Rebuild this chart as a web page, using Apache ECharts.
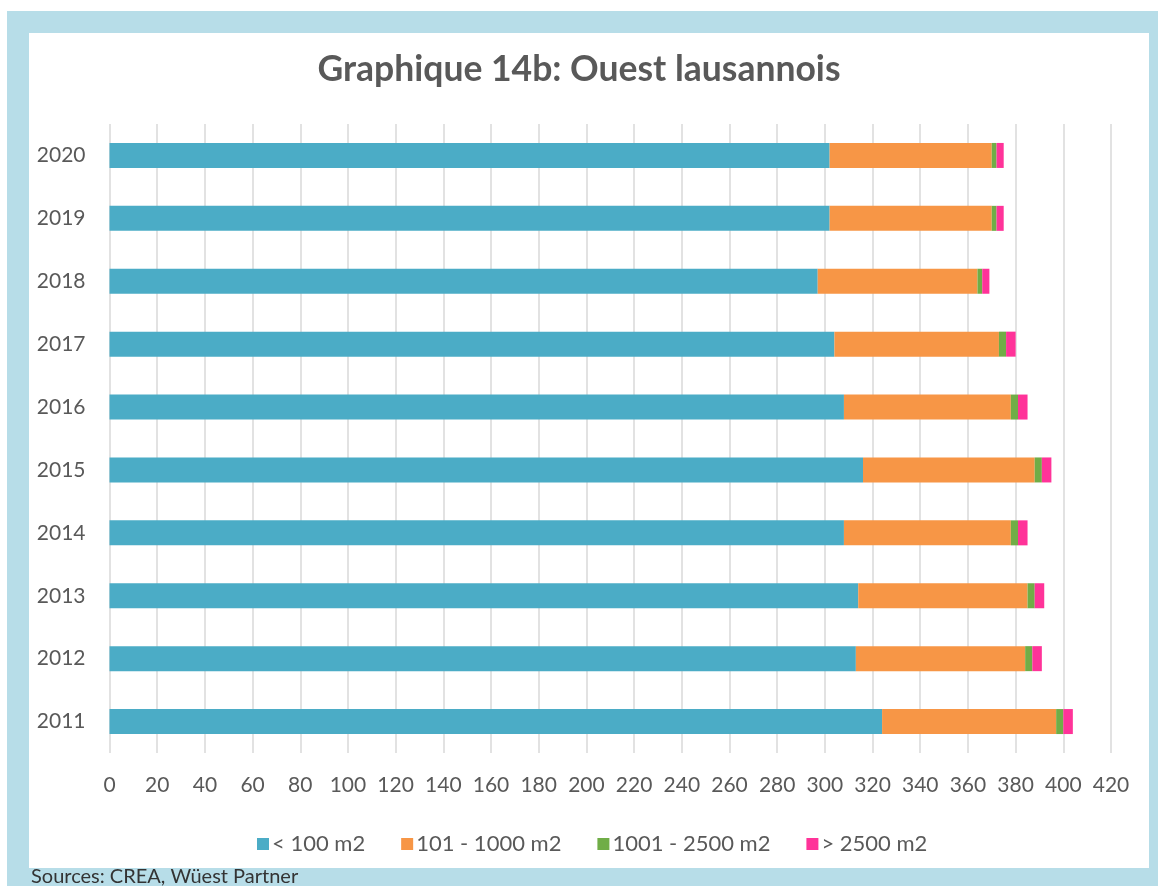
<!DOCTYPE html>
<html>
<head>
<meta charset="utf-8">
<style>
html,body{margin:0;padding:0;background:#fff;}
#chart{width:1158px;height:886px;}
</style>
<script src="https://cdn.jsdelivr.net/npm/echarts@6/dist/echarts.min.js"></script>
</head>
<body>
<div id="chart"></div>
<script>
var years = ['2011','2012','2013','2014','2015','2016','2017','2018','2019','2020'];
var seriesNames = ['< 100 m2','101 - 1000 m2','1001 - 2500 m2','> 2500 m2'];
var small = [324, 313, 314, 308, 316, 308, 304, 297, 302, 302];
var medium = [73, 71, 71, 70, 72, 70, 69, 67, 68, 68];
var large = [3, 3, 3, 3, 3, 3, 3, 2, 2, 2];
var xlarge = [4, 4, 4, 4, 4, 4, 4, 3, 3, 3];
var colors = ['#4bacc6', '#f79646', '#70ad47', '#ff3399'];
var values = [small, medium, large, xlarge];

var chart = echarts.init(document.getElementById('chart'), null, {renderer: 'canvas'});
var FONT = 'Lato, "Open Sans", sans-serif';
var series = values.map(function (v, i) {
  return {
    name: seriesNames[i],
    type: 'bar',
    stack: 'total',
    data: v,
    barWidth: 25,
    itemStyle: {color: colors[i]},
    emphasis: {disabled: true},
    z: 3
  };
});

chart.setOption({
  animation: false,
  backgroundColor: '#ffffff',
  color: colors,
  graphic: [
    {type: 'rect', z: -10, silent: true, shape: {x: 7, y: 11, width: 1151, height: 875}, style: {fill: '#b7dde8'}},
    {type: 'rect', z: -9, silent: true, shape: {x: 29, y: 33, width: 1120, height: 835}, style: {fill: '#ffffff'}},
    {type: 'text', z: 10, left: 31, top: 867, style: {text: 'Sources: CREA, Wüest Partner', fill: '#333333', font: '20px ' + FONT}}
  ],
  title: {
    text: 'Graphique 14b: Ouest lausannois',
    left: 'center',
    top: 47,
    textStyle: {color: '#595959', fontFamily: FONT, fontWeight: 'bold', fontSize: 35.5}
  },
  legend: {
    data: seriesNames,
    top: 828,
    left: 252,
    icon: 'rect',
    itemWidth: 12,
    itemHeight: 12,
    itemGap: 36,
    textStyle: {color: '#595959', fontFamily: FONT, fontSize: 22, padding: [0, 0, 0, -2]}
  },
  grid: {left: 109.5, right: 47, top: 124, bottom: 133, containLabel: false},
  xAxis: {
    type: 'value',
    min: 0,
    max: 420,
    interval: 20,
    axisLine: {show: false},
    axisTick: {show: false},
    axisLabel: {color: '#595959', fontFamily: FONT, fontSize: 21, margin: 22},
    splitLine: {show: true, lineStyle: {color: '#d9d9d9', width: 1.5}}
  },
  yAxis: {
    type: 'category',
    data: years,
    axisLine: {show: false},
    axisTick: {show: false},
    axisLabel: {color: '#595959', fontFamily: FONT, fontSize: 21, margin: 24},
    splitLine: {show: false}
  },
  series: series
});
</script>
</body>
</html>
